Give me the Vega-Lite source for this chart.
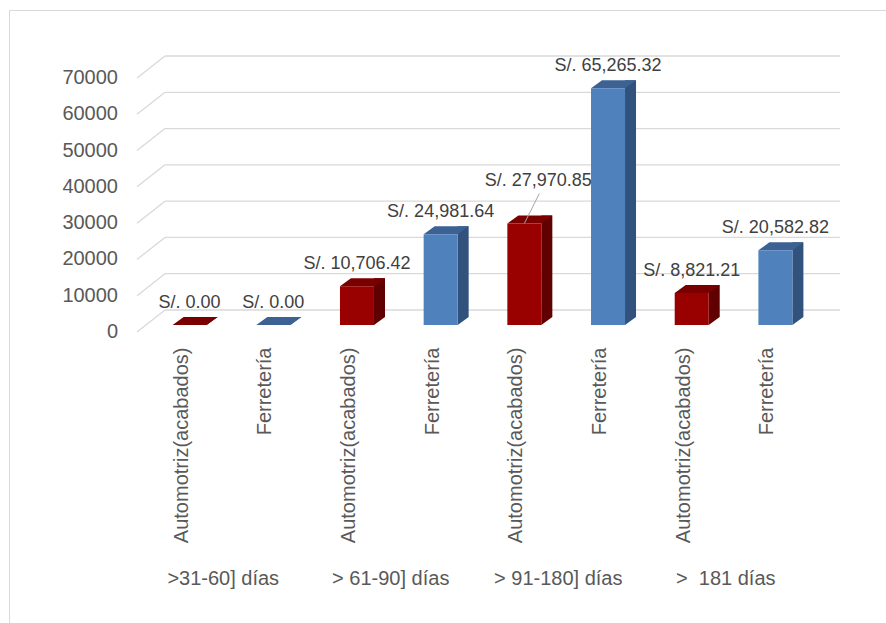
{
  "$schema": "https://vega.github.io/schema/vega-lite/v6.json",
  "width": 900,
  "height": 630,
  "autosize": {"type": "none"},
  "padding": {"left": 9, "top": 10, "right": 0, "bottom": 0},
  "background": "white",
  "config": {
    "view": {"stroke": "#d9d9d9", "strokeWidth": 1},
    "font": "Liberation Sans"
  },
  "datasets": {
    "montos": [
      {"grupo": ">31-60] días", "categoria": "Automotriz(acabados)", "barra": ">31-60] días|Automotriz(acabados)", "monto": 0},
      {"grupo": ">31-60] días", "categoria": "Ferretería", "barra": ">31-60] días|Ferretería", "monto": 0},
      {"grupo": "> 61-90] días", "categoria": "Automotriz(acabados)", "barra": "> 61-90] días|Automotriz(acabados)", "monto": 10706.42},
      {"grupo": "> 61-90] días", "categoria": "Ferretería", "barra": "> 61-90] días|Ferretería", "monto": 24981.64},
      {"grupo": "> 91-180] días", "categoria": "Automotriz(acabados)", "barra": "> 91-180] días|Automotriz(acabados)", "monto": 27970.85},
      {"grupo": "> 91-180] días", "categoria": "Ferretería", "barra": "> 91-180] días|Ferretería", "monto": 65265.32},
      {"grupo": ">\u00a0 181 días", "categoria": "Automotriz(acabados)", "barra": ">\u00a0 181 días|Automotriz(acabados)", "monto": 8821.21},
      {"grupo": ">\u00a0 181 días", "categoria": "Ferretería", "barra": ">\u00a0 181 días|Ferretería", "monto": 20582.82}
    ],
    "marcas": [
      {"tick": 0}, {"tick": 10000}, {"tick": 20000}, {"tick": 30000},
      {"tick": 40000}, {"tick": 50000}, {"tick": 60000}, {"tick": 70000}
    ]
  },
  "resolve": {"scale": {"x": "independent"}},
  "layer": [
    {
      "data": {"name": "marcas"},
      "encoding": {
        "y": {
          "field": "tick", "type": "quantitative",
          "scale": {"domain": [0, 70000], "range": [322, 68], "nice": false, "zero": true},
          "axis": null
        }
      },
      "layer": [
        {
          "mark": {"type": "rule", "color": "#d9d9d9", "strokeWidth": 1.3, "xOffset": 28, "x2Offset": 28, "yOffset": -22},
          "encoding": {
            "x": {"datum": 0, "type": "quantitative", "scale": {"domain": [0, 1], "range": [128, 803]}, "axis": null},
            "x2": {"datum": 1}
          }
        },
        {
          "mark": {"type": "rule", "color": "#d9d9d9", "strokeWidth": 1.3, "x2Offset": 28, "y2Offset": -22},
          "encoding": {
            "x": {"datum": 0, "type": "quantitative", "scale": {"domain": [0, 1], "range": [128, 803]}, "axis": null},
            "x2": {"datum": 0},
            "y2": {"field": "tick"}
          }
        },
        {
          "mark": {"type": "text", "fontSize": 20, "color": "#595959", "align": "right", "baseline": "middle", "dx": -19, "font": "Liberation Sans"},
          "encoding": {
            "x": {"datum": 0, "type": "quantitative", "scale": {"domain": [0, 1], "range": [128, 803]}, "axis": null},
            "text": {"field": "tick", "type": "quantitative", "format": "d"}
          }
        }
      ]
    },
    {
      "data": {"name": "montos"},
      "transform": [{"calculate": "'S/. ' + format(datum.monto, ',.2f')", "as": "etiqueta"}],
      "encoding": {
        "x": {
          "field": "barra", "type": "nominal", "sort": null,
          "scale": {"range": [128, 803], "paddingInner": 0.594, "paddingOuter": 0.33},
          "axis": {
            "orient": "bottom", "offset": -308, "labelAngle": 270, "labelPadding": 15,
            "labelFontSize": 20, "labelColor": "#595959", "labelFont": "Liberation Sans",
            "labelLimit": 400, "ticks": false, "domain": false, "grid": false, "title": null,
            "labelExpr": "split(datum.label, '|')[1]"
          }
        },
        "y": {
          "field": "monto", "type": "quantitative",
          "scale": {"domain": [0, 70000], "range": [322, 68], "nice": false, "zero": true},
          "axis": null
        }
      },
      "layer": [
        {
          "mark": {"type": "bar", "width": 11, "xOffset": 30.5, "yOffset": -15, "y2Offset": -15},
          "encoding": {
            "y2": {"datum": 0},
            "color": {"condition": {"test": "datum.categoria === 'Ferretería'", "value": "#30527d"}, "value": "#600000"}
          }
        },
        {
          "mark": {"type": "point", "shape": "M17,0L17,-8L28,-8Z", "size": 4, "filled": true, "opacity": 1, "strokeWidth": 0, "xOffset": 8, "yOffset": -7},
          "encoding": {
            "y": {"datum": 0, "type": "quantitative", "scale": {"domain": [0, 70000], "range": [322, 68], "nice": false, "zero": true}, "axis": null},
            "color": {"condition": {"test": "datum.categoria === 'Ferretería'", "value": "#30527d"}, "value": "#600000"}
          }
        },
        {
          "mark": {"type": "point", "shape": "M-17,0L-6,-8L28,-8L17,0Z", "size": 4, "filled": true, "opacity": 1, "strokeWidth": 0, "xOffset": 8, "yOffset": -7},
          "encoding": {
            "color": {"condition": {"test": "datum.categoria === 'Ferretería'", "value": "#3b6293"}, "value": "#7a0000"}
          }
        },
        {
          "mark": {"type": "bar", "width": 34, "xOffset": 8, "yOffset": -7, "y2Offset": -7},
          "encoding": {
            "y2": {"datum": 0},
            "color": {"condition": {"test": "datum.categoria === 'Ferretería'", "value": "#4f81bd"}, "value": "#990000"}
          }
        },
        {
          "transform": [{"filter": "datum.barra === '> 91-180] días|Automotriz(acabados)'"}],
          "mark": {"type": "rule", "color": "#a6a6a6", "strokeWidth": 1, "xOffset": 8, "x2Offset": 23, "yOffset": -7, "y2Offset": -37},
          "encoding": {
            "x2": {"field": "barra"},
            "y2": {"field": "monto"}
          }
        },
        {
          "transform": [{"filter": "datum.barra !== '> 91-180] días|Automotriz(acabados)'"}],
          "mark": {"type": "text", "fontSize": 18, "color": "#404040", "baseline": "middle", "align": "center", "xOffset": 8, "yOffset": -29},
          "encoding": {"text": {"field": "etiqueta"}}
        },
        {
          "transform": [{"filter": "datum.barra === '> 91-180] días|Automotriz(acabados)'"}],
          "mark": {"type": "text", "fontSize": 18, "color": "#404040", "baseline": "middle", "align": "center", "xOffset": 22, "yOffset": -50},
          "encoding": {"text": {"field": "etiqueta"}}
        }
      ]
    },
    {
      "data": {"name": "montos"},
      "mark": {"type": "point", "opacity": 0},
      "encoding": {
        "x": {
          "field": "grupo", "type": "nominal", "sort": null,
          "scale": {"range": [130, 800], "paddingInner": 0, "paddingOuter": 0},
          "axis": {
            "orient": "bottom", "offset": -308, "labelAngle": 0, "labelPadding": 246, "labelBaseline": "middle",
            "labelFontSize": 20, "labelColor": "#595959", "labelFont": "Liberation Sans",
            "ticks": false, "domain": false, "grid": false, "title": null
          }
        },
        "y": {"datum": 0, "type": "quantitative", "scale": {"domain": [0, 70000], "range": [322, 68], "nice": false, "zero": true}, "axis": null}
      }
    }
  ]
}
